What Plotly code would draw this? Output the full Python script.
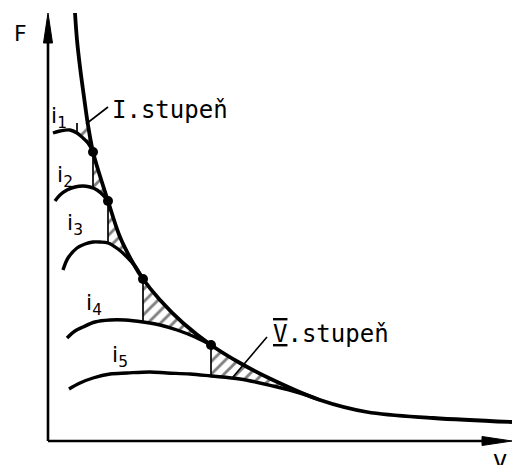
import plotly.graph_objects as go

# ---- data (v = speed, F = tractive force; arbitrary units) ----
hyp_v = [27, 29, 32, 36, 40, 45, 52, 60, 72, 85, 95, 112, 135, 163, 192, 225, 272, 319, 385, 464]
hyp_F = [428, 401, 374, 344, 316, 289, 265, 240, 204, 178, 162, 141, 118, 96, 78, 61, 41, 29, 23, 19]

i1_v = [5, 12, 22, 29, 35, 40, 45]
i1_F = [308, 310, 311, 308, 303, 298, 289]
i2_v = [7, 12, 19, 27, 35, 42, 45, 49, 55, 60]
i2_F = [240, 246, 251, 254, 255, 254, 253, 251, 246, 240]
i3_v = [15, 20, 29, 37, 45, 52, 60, 70, 79, 87, 95]
i3_F = [171, 183, 193, 197, 199, 199, 198, 192, 184, 175, 162]
i4_v = [19, 27, 35, 47, 62, 77, 95, 112, 129, 147, 163]
i4_F = [103, 110, 114, 119, 121, 121, 119, 116, 111, 104, 96]
i5_v = [21, 32, 45, 62, 79, 102, 119, 142, 163, 192, 225, 252, 272]
i5_F = [52, 58, 63, 67, 68, 69, 68, 67, 65, 62, 55, 48, 41]

dot_v = [45, 60, 95, 163]
dot_F = [289, 240, 162, 96]

stage1_tick_v = 29
stage1_tick_top = 318
stage1_hyp_from = 40
stage5_end_v = 272

gear_labels = ["i<sub>1</sub>", "i<sub>2</sub>", "i<sub>3</sub>", "i<sub>4</sub>", "i<sub>5</sub>"]
gear_label_v = [11, 17, 27, 46, 72]
gear_label_F = [324, 265, 217, 137, 85]

stage_text = ["I.stupeň", "<span style='text-decoration:underline overline'>V</span>.stupeň"]
stage_text_v = [122, 283]
stage_text_F = [331, 107]
leader_v = [[60, 38], [219, 185]]
leader_F = [[334, 317], [104, 64]]

axis_v_max = 464
axis_F_max = 428

gears = [(i1_v, i1_F), (i2_v, i2_F), (i3_v, i3_F), (i4_v, i4_F), (i5_v, i5_F)]

fig = go.Figure()

hatch = dict(shape="/", fgcolor="black", bgcolor="rgba(0,0,0,0)", size=9, solidity=0.32)


def add_region(lower, upper):
    pv = [p[0] for p in lower] + [p[0] for p in upper]
    pF = [p[1] for p in lower] + [p[1] for p in upper]
    fig.add_trace(go.Scatter(x=pv, y=pF, mode="lines", fill="toself",
                             fillcolor="rgba(0,0,0,0)", fillpattern=hatch,
                             line=dict(width=0, color="black"), hoverinfo="skip",
                             showlegend=False))


# stage I small region
lower = [(v, F) for v, F in zip(i1_v, i1_F) if stage1_tick_v <= v <= dot_v[0]]
upper = [(v, F) for v, F in zip(hyp_v, hyp_F) if stage1_hyp_from <= v <= dot_v[0]][::-1]
add_region(lower, upper)

# stages between dots
for k in range(3):
    gv, gF = gears[k + 1]
    lower = [(v, F) for v, F in zip(gv, gF) if dot_v[k] <= v <= dot_v[k + 1]]
    upper = [(v, F) for v, F in zip(hyp_v, hyp_F) if dot_v[k] <= v <= dot_v[k + 1]][::-1]
    add_region(lower, upper)

# stage V region
lower = [(v, F) for v, F in zip(i5_v, i5_F) if dot_v[3] <= v <= stage5_end_v]
upper = [(v, F) for v, F in zip(hyp_v, hyp_F) if dot_v[3] <= v <= stage5_end_v][::-1]
add_region(lower, upper)

# vertical separators
for k in range(4):
    gv, gF = gears[k + 1]
    bottom = gF[gv.index(dot_v[k])]
    fig.add_trace(go.Scatter(x=[dot_v[k], dot_v[k]], y=[dot_F[k], bottom], mode="lines",
                             line=dict(color="black", width=1.7), hoverinfo="skip",
                             showlegend=False))
fig.add_trace(go.Scatter(x=[stage1_tick_v, stage1_tick_v],
                         y=[i1_F[i1_v.index(stage1_tick_v)], stage1_tick_top], mode="lines",
                         line=dict(color="black", width=1.7), hoverinfo="skip", showlegend=False))

# gear curves
for gv, gF in gears:
    fig.add_trace(go.Scatter(x=gv, y=gF, mode="lines",
                             line=dict(color="black", width=3.4, shape="spline", smoothing=1),
                             hoverinfo="skip", showlegend=False))

# ideal hyperbola
fig.add_trace(go.Scatter(x=hyp_v, y=hyp_F, mode="lines",
                         line=dict(color="black", width=3.8, shape="spline", smoothing=1),
                         hoverinfo="skip", showlegend=False))

# dots
fig.add_trace(go.Scatter(x=dot_v, y=dot_F, mode="markers",
                         marker=dict(color="black", size=10), hoverinfo="skip", showlegend=False))

# leader lines
for lv, lF in zip(leader_v, leader_F):
    fig.add_trace(go.Scatter(x=lv, y=lF, mode="lines", line=dict(color="black", width=1.6),
                             hoverinfo="skip", showlegend=False))

annotations = []
for t, v, F in zip(gear_labels, gear_label_v, gear_label_F):
    annotations.append(dict(x=v, y=F, text=t, showarrow=False,
                            font=dict(family="DejaVu Sans", size=22, color="black")))
for t, v, F in zip(stage_text, stage_text_v, stage_text_F):
    annotations.append(dict(x=v, y=F, text=t, showarrow=False,
                            font=dict(family="DejaVu Sans Mono", size=24, color="black")))
annotations.append(dict(x=-28, y=408, text="F", showarrow=False,
                        font=dict(family="DejaVu Sans", size=22, color="black")))
annotations.append(dict(x=452, y=-19, text="v", showarrow=False,
                        font=dict(family="DejaVu Sans", size=24, color="black")))

# axes lines and long narrow arrowheads (decoration)
head_len = 30
head_half = 4.5
shapes = [
    dict(type="line", x0=0, y0=0, x1=0, y1=axis_F_max - head_len + 2, xref="x", yref="y",
         line=dict(color="black", width=2.6)),
    dict(type="line", x0=0, y0=0, x1=axis_v_max - head_len + 2, y1=0, xref="x", yref="y",
         line=dict(color="black", width=2.6)),
    dict(type="path", xref="x", yref="y",
         path=f"M {-head_half},{axis_F_max - head_len} L 0,{axis_F_max} L {head_half},{axis_F_max - head_len} Z",
         fillcolor="black", line=dict(color="black", width=1)),
    dict(type="path", xref="x", yref="y",
         path=f"M {axis_v_max - head_len},{-head_half} L {axis_v_max},0 L {axis_v_max - head_len},{head_half} Z",
         fillcolor="black", line=dict(color="black", width=1)),
]

fig.update_layout(
    width=512, height=465,
    margin=dict(l=0, r=0, t=0, b=0),
    paper_bgcolor="white", plot_bgcolor="white",
    xaxis=dict(range=[-48, 464], visible=False, fixedrange=True),
    yaxis=dict(range=[-24, 441], visible=False, fixedrange=True),
    annotations=annotations,
    shapes=shapes,
    showlegend=False,
    hovermode=False,
)

fig.write_html("out.html", config={"displayModeBar": False, "staticPlot": True},
               post_script="document.body.style.margin='0';")
